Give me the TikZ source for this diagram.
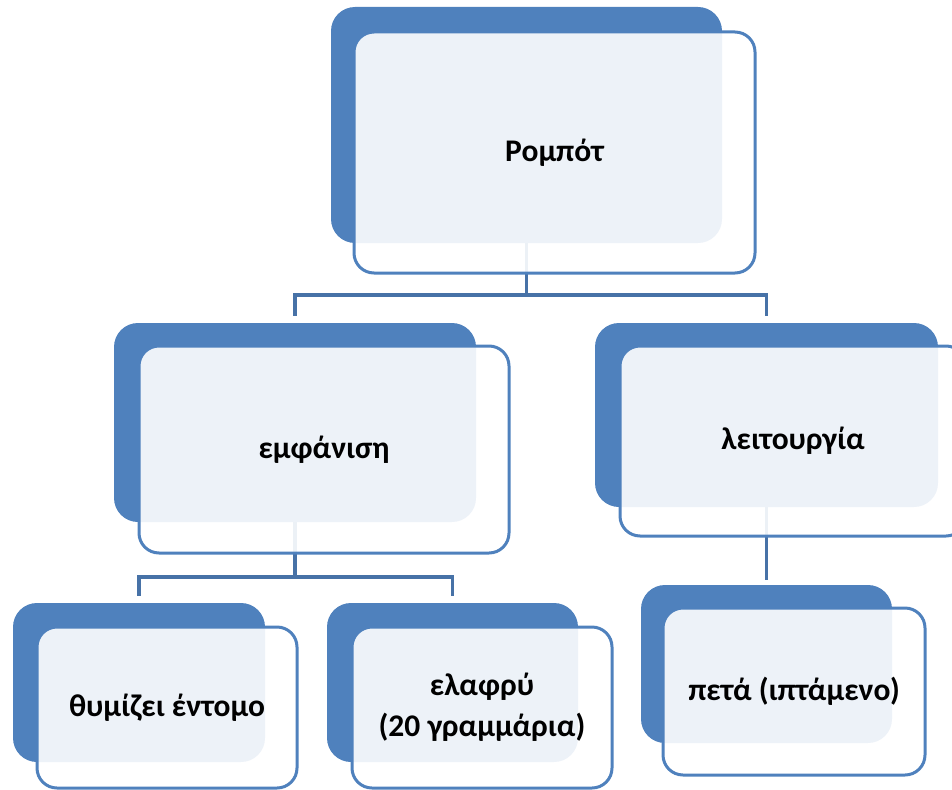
\documentclass[tikz,border=0pt]{standalone}
\usepackage{fontspec}
\setmainfont{Carlito}
\definecolor{accent}{HTML}{4F81BD}
\definecolor{linkblue}{HTML}{4772A7}

\tikzset{
  back/.style={fill=accent, rounded corners=24pt, inner sep=0pt},
  front/.style={draw=accent, line width=3pt, fill=white, fill opacity=0.9,
    text opacity=1, rounded corners=20pt, inner sep=0pt, align=center,
    font=\bfseries\fontsize{31.5}{41}\selectfont},
  link/.style={draw=linkblue, line width=3.5pt}
}

\begin{document}
\begin{tikzpicture}[x=1pt, y=-1pt]
        \useasboundingbox (0,0) rectangle (952,789);
        \clip (0,0) rectangle (952,789);

        % back boxes
        \node[back, minimum width=391pt, minimum height=236pt] (robot-bk) at (526.5,125) {};
        \node[back, minimum width=362pt, minimum height=199pt] (look-bk) at (295,422.5) {};
        \node[back, minimum width=343pt, minimum height=184pt] (func-bk) at (766.5,415) {};
        \node[back, minimum width=252pt, minimum height=159pt] (insect-bk) at (139,682.5) {};
        \node[back, minimum width=251pt, minimum height=159pt] (light-bk) at (452.5,682.5) {};
        \node[back, minimum width=251pt, minimum height=158pt] (fly-bk) at (766.5,664) {};

        % connectors
        \draw[link] (robot-bk.south) -- ++(0,52) coordinate (robot-split);
        \draw[link, shorten >=7pt] (robot-split) -| (look-bk.north);
        \draw[link, shorten >=7pt] (robot-split) -| (func-bk.north);
        \draw[link] (look-bk.south) -- ++(0,55) coordinate (look-split);
        \draw[link, shorten >=7pt] (look-split) -| (insect-bk.north);
        \draw[link, shorten >=7pt] (look-split) -| (light-bk.north);
        \draw[link, shorten >=5pt] (func-bk.south) -- (fly-bk.north);

        % front boxes
        \node[front, minimum width=401pt, minimum height=241pt] (robot) at (554.5,152.5) {Ρομπότ};
        \node[front, minimum width=370pt, minimum height=207pt] (look) at (324,449.5) {εμφάνιση};
        \node[front, minimum width=346pt, minimum height=190pt] (func) at (793,441) {λειτουργία};
        \node[front, minimum width=260pt, minimum height=161pt] (insect) at (167,707.5) {θυμίζει έντομο};
        \node[front, minimum width=260pt, minimum height=161pt] (light) at (482,707.5) {ελαφρύ\\(20 γραμμάρια)};
        \node[front, minimum width=262pt, minimum height=167pt] (fly) at (794,691.5) {πετά (ιπτάμενο)};
\end{tikzpicture}
\end{document}
